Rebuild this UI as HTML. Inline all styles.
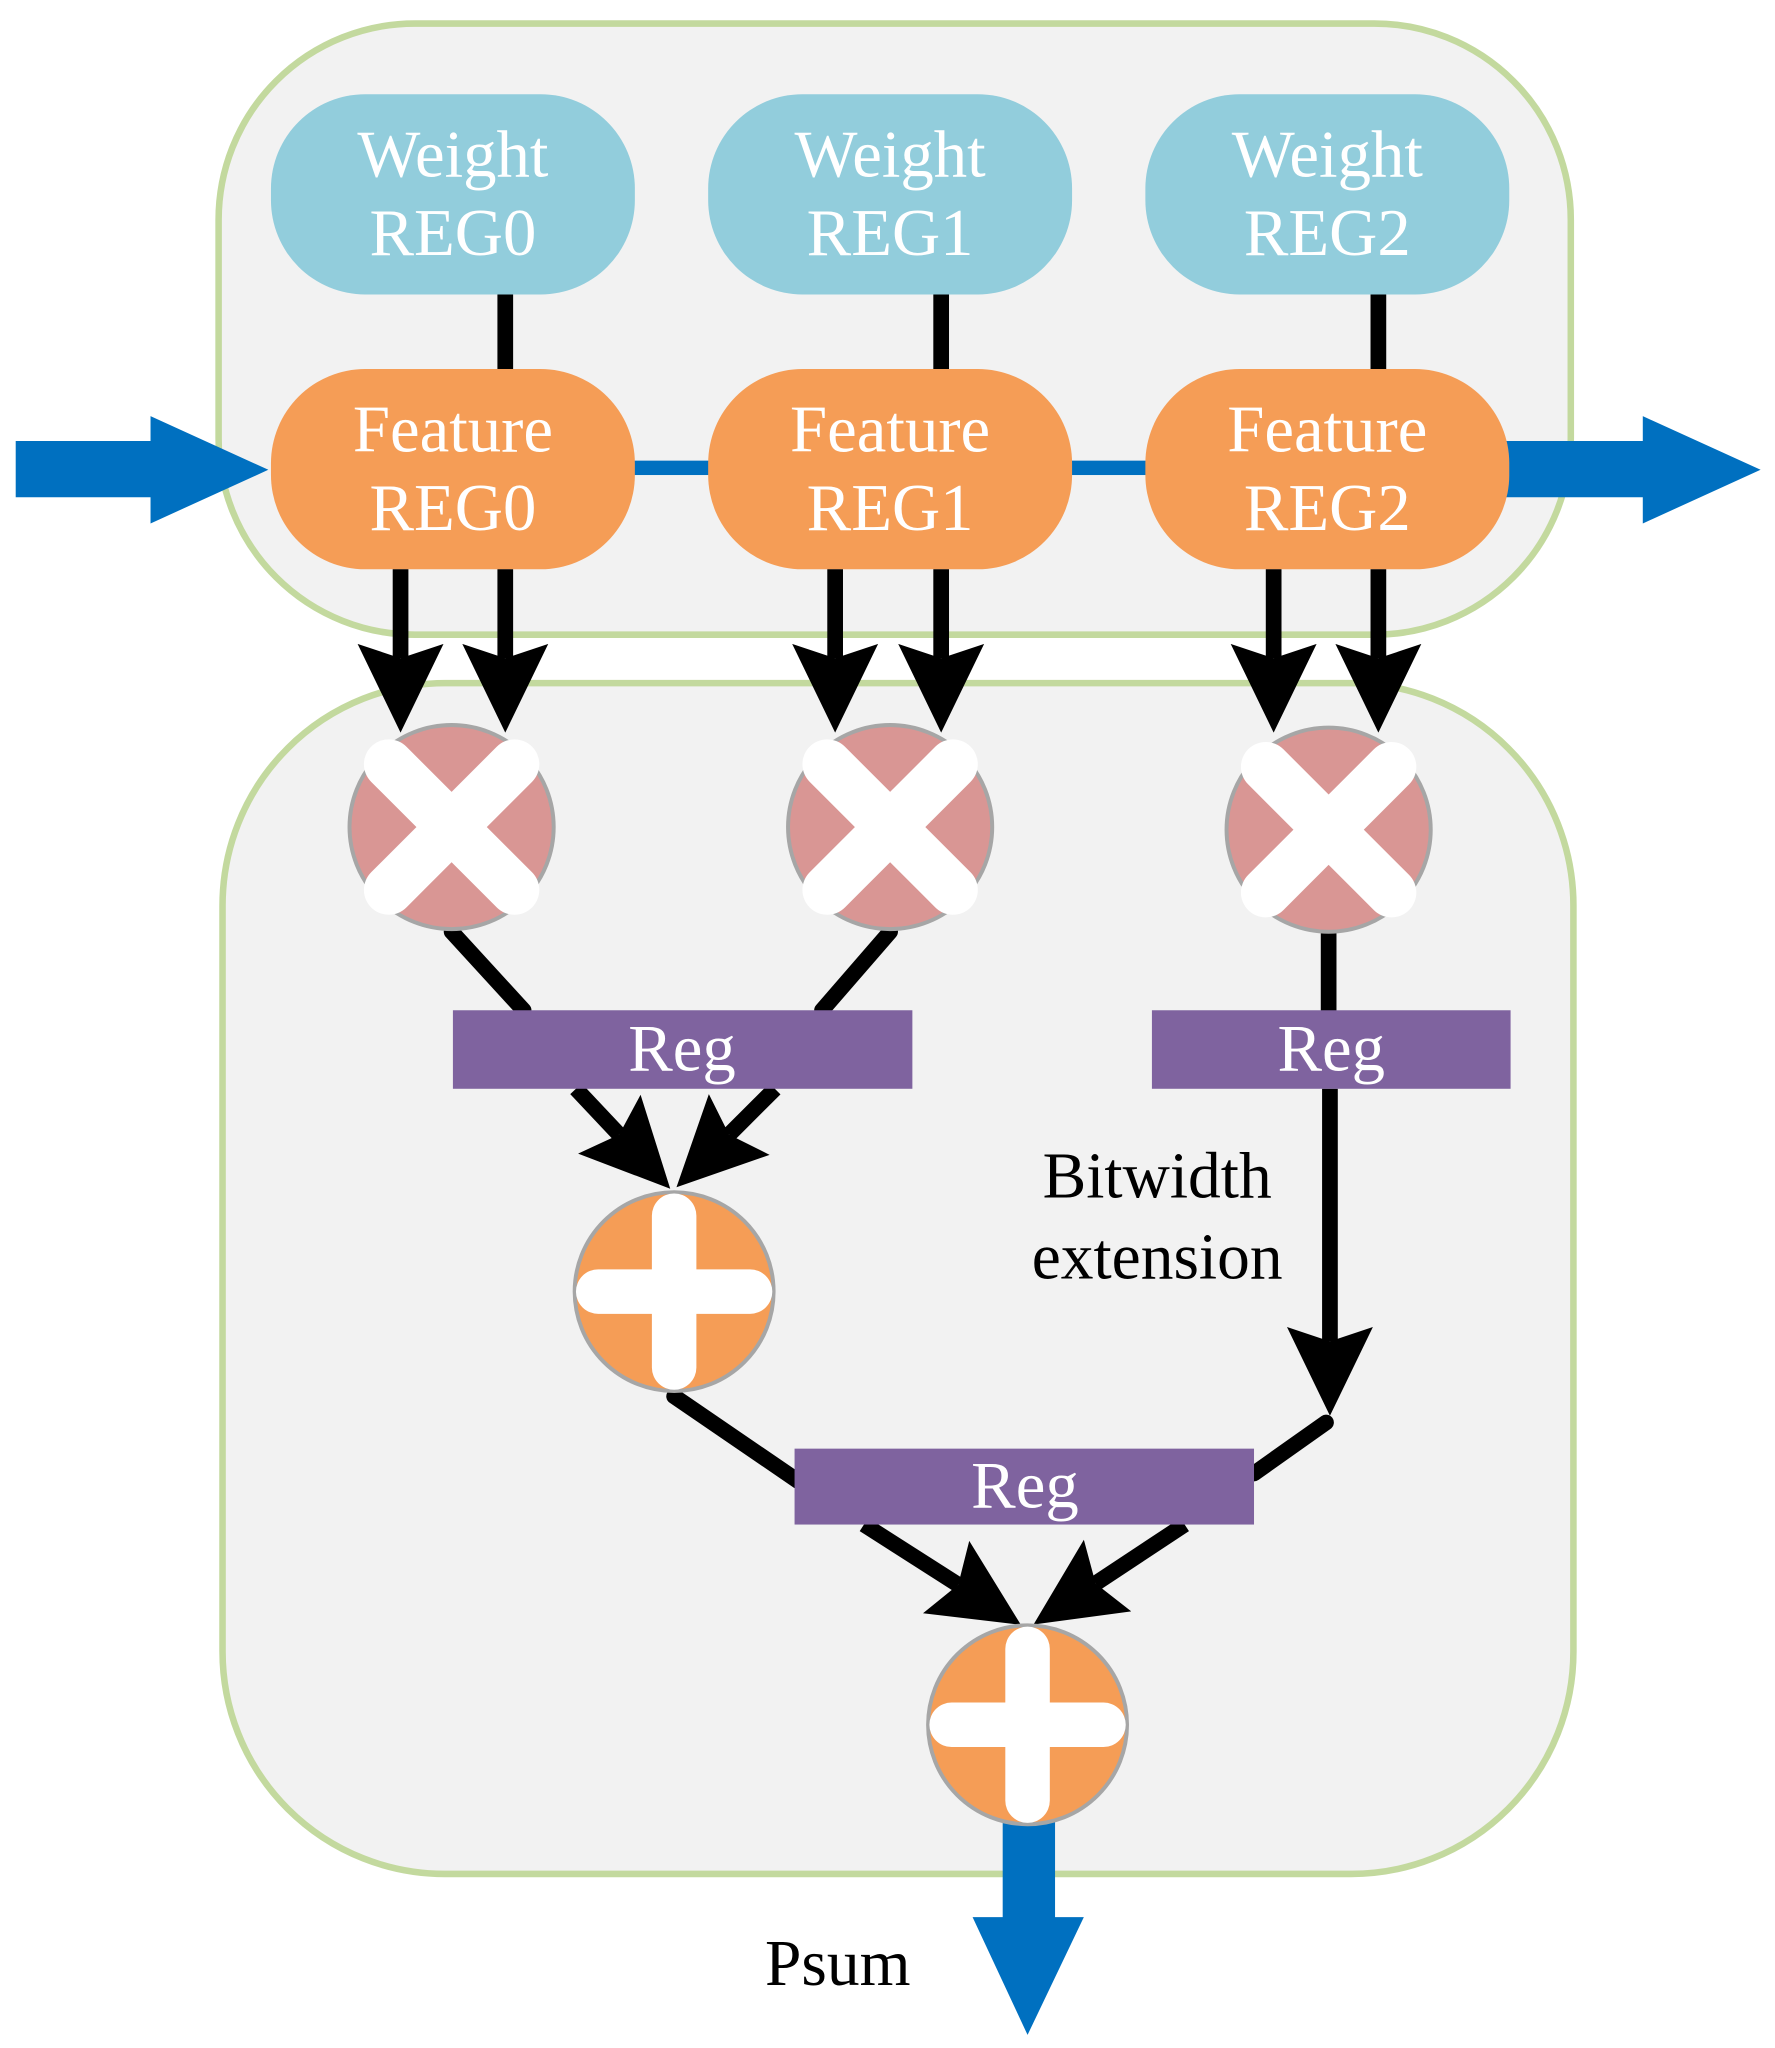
<!DOCTYPE html>
<html><head><meta charset="utf-8"><style>
html,body{margin:0;padding:0;background:#fff;}
svg{display:block;}
text{font-family:"Liberation Serif",serif;}
</style></head><body>
<svg width="1775" height="2048" viewBox="0 0 1356 1565" preserveAspectRatio="none" xmlns="http://www.w3.org/2000/svg">
<defs>
<marker id="ah" markerUnits="userSpaceOnUse" markerWidth="70" markerHeight="70" refX="10" refY="32" orient="auto" viewBox="0 0 64 64">
<path d="M0,2 L62,32 L0,62 L10,32 Z" fill="#000"/>
</marker>
</defs>
<rect x="167" y="18" width="1033" height="467" rx="150" fill="#f2f2f2" stroke="#c3d99e" stroke-width="5"/>
<rect x="170" y="522" width="1032" height="910" rx="170" fill="#f2f2f2" stroke="#c3d99e" stroke-width="5"/>

<g stroke="#000" stroke-width="12">
<line x1="386" y1="225" x2="386" y2="285"/>
<line x1="719" y1="225" x2="719" y2="285"/>
<line x1="1053" y1="225" x2="1053" y2="285"/>
</g>
<g fill="#0070c0">
<rect x="480" y="352" width="65" height="11"/>
<rect x="813" y="352" width="65" height="11"/>
<polygon points="12,337 115,337 115,318 205,359 115,400 115,380 12,380"/>
<polygon points="1150,337 1255,337 1255,318 1345,359 1255,400 1255,380 1150,380"/>
<polygon points="766,1390 806,1390 806,1465 828,1465 785,1555 743,1465 766,1465"/>
</g>

<g fill="#92cddc">
<rect x="207" y="72" width="278" height="153" rx="72"/>
<rect x="541" y="72" width="278" height="153" rx="72"/>
<rect x="875" y="72" width="278" height="153" rx="72"/>
</g>
<g fill="#f59d56">
<rect x="207" y="282" width="278" height="153" rx="72"/>
<rect x="541" y="282" width="278" height="153" rx="72"/>
<rect x="875" y="282" width="278" height="153" rx="72"/>
</g>
<g fill="#fff" font-size="51" text-anchor="middle">
<text x="346" y="135">Weight</text><text x="346" y="195">REG0</text>
<text x="680" y="135">Weight</text><text x="680" y="195">REG1</text>
<text x="1014" y="135">Weight</text><text x="1014" y="195">REG2</text>
<text x="346" y="345">Feature</text><text x="346" y="405">REG0</text>
<text x="680" y="345">Feature</text><text x="680" y="405">REG1</text>
<text x="1014" y="345">Feature</text><text x="1014" y="405">REG2</text>
</g>

<g stroke="#000" stroke-width="12" marker-end="url(#ah)">
<line x1="306" y1="435" x2="306" y2="503"/>
<line x1="386" y1="435" x2="386" y2="503"/>
<line x1="638" y1="435" x2="638" y2="503"/>
<line x1="719" y1="435" x2="719" y2="503"/>
<line x1="973" y1="435" x2="973" y2="503"/>
<line x1="1053" y1="435" x2="1053" y2="503"/>
<line x1="440" y1="832" x2="473" y2="867"/>
<line x1="592" y1="832" x2="557" y2="867"/>
<line x1="1016" y1="832" x2="1016" y2="1025"/>
<line x1="660" y1="1165" x2="732" y2="1211"/>
<line x1="905" y1="1165" x2="837" y2="1210"/>
</g>
<g stroke="#000" stroke-width="12" fill="none" stroke-linecap="round">
<line x1="345" y1="712" x2="400" y2="772"/>
<line x1="680" y1="712" x2="628" y2="772"/>
<line x1="1015" y1="712" x2="1015" y2="772"/>
<line x1="515" y1="1067" x2="610" y2="1132"/>
<line x1="1013" y1="1087" x2="958" y2="1126"/>
</g>

<g stroke="#a6a6a6" stroke-width="3" fill="#d99694">
<circle cx="345" cy="632" r="78"/>
<circle cx="680" cy="632" r="78"/>
<circle cx="1015" cy="634" r="78"/>
</g>
<g stroke="#fff" stroke-width="38" stroke-linecap="round">
<path d="M297,584 L393,680 M393,584 L297,680"/>
<path d="M632,584 L728,680 M728,584 L632,680"/>
<path d="M967,586 L1063,682 M1063,586 L967,682"/>
</g>

<g fill="#7f639f">
<rect x="346" y="772" width="351" height="60"/>
<rect x="880" y="772" width="274" height="60"/>
<rect x="607" y="1107" width="351" height="58"/>
</g>
<g fill="#fff" font-size="51" text-anchor="middle">
<text x="521" y="818">Reg</text>
<text x="1017" y="818">Reg</text>
<text x="783" y="1152">Reg</text>
</g>

<g stroke="#a6a6a6" stroke-width="3" fill="#f59d56">
<circle cx="515" cy="987" r="76"/>
<circle cx="785" cy="1318" r="76"/>
</g>
<g stroke="#fff" stroke-width="34" stroke-linecap="round">
<path d="M515,929 L515,1045 M457,987 L573,987"/>
<path d="M785,1260 L785,1376 M727,1318 L843,1318"/>
</g>

<g fill="#000" font-size="50" text-anchor="middle">
<text x="884" y="915">Bitwidth</text>
<text x="884" y="977">extension</text>
<text x="640" y="1517">Psum</text>
</g>
</svg>
</body></html>
